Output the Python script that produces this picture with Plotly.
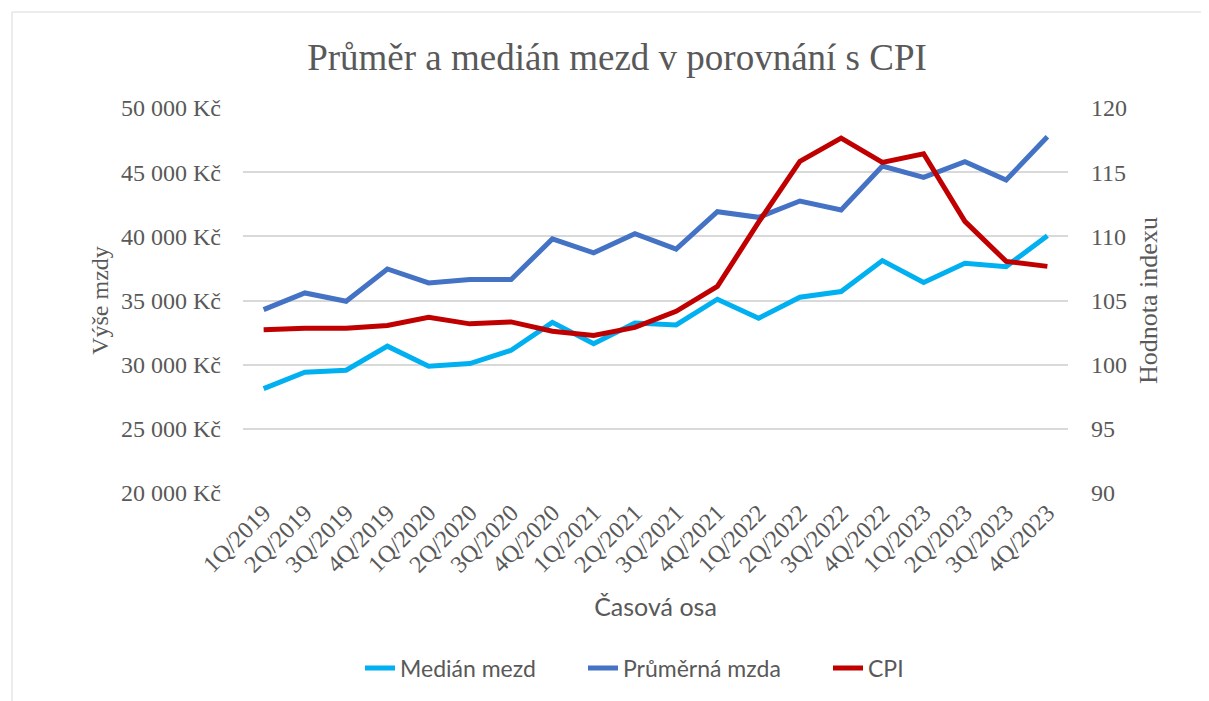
import plotly.graph_objects as go

categories = ["1Q/2019", "2Q/2019", "3Q/2019", "4Q/2019",
              "1Q/2020", "2Q/2020", "3Q/2020", "4Q/2020",
              "1Q/2021", "2Q/2021", "3Q/2021", "4Q/2021",
              "1Q/2022", "2Q/2022", "3Q/2022", "4Q/2022",
              "1Q/2023", "2Q/2023", "3Q/2023", "4Q/2023"]

median_wage = [28130, 29410, 29570, 31440, 29880, 30090, 31120, 33300, 31640, 33250,
               33100, 35100, 33620, 35260, 35700, 38110, 36400, 37900, 37640, 40050]

average_wage = [34290, 35590, 34940, 37460, 36370, 36630, 36630, 39800, 38710, 40210,
                39000, 41920, 41480, 42750, 42050, 45480, 44600, 45820, 44390, 47760]

cpi = [102.73, 102.84, 102.84, 103.05, 103.7, 103.18, 103.33, 102.6, 102.27, 102.9,
       104.16, 106.1, 111.1, 115.84, 117.66, 115.76, 116.44, 111.17, 108.05, 107.66]

left_ticks = [20000, 25000, 30000, 35000, 40000, 45000, 50000]
left_ticktext = ["20 000 Kč", "25 000 Kč", "30 000 Kč", "35 000 Kč",
                 "40 000 Kč", "45 000 Kč", "50 000 Kč"]
right_ticks = [90, 95, 100, 105, 110, 115, 120]

serif = "Liberation Serif, Times New Roman, serif"
sans = "Lato, Carlito, Liberation Sans, sans-serif"
gray = "#595959"

# plot area in figure coords (page is offset by 8px body margin)
L, T, W, H = 235, 100, 825, 385
FW, FH = 1209, 701

fig = go.Figure()
fig.add_trace(go.Scatter(x=categories, y=median_wage, name="Medián mezd",
                         mode="lines", line=dict(color="#00B0F0", width=5),
                         legend="legend", showlegend=True))
fig.add_trace(go.Scatter(x=categories, y=average_wage, name="Průměrná mzda",
                         mode="lines", line=dict(color="#4472C4", width=5),
                         legend="legend2", showlegend=True))
fig.add_trace(go.Scatter(x=categories, y=cpi, name="CPI", yaxis="y2",
                         mode="lines", line=dict(color="#C00000", width=5),
                         legend="legend2", showlegend=True))

legend_common = dict(orientation="h", xanchor="left",
                     y=(T + H - 660) / H, yanchor="middle",
                     entrywidth=200, entrywidthmode="pixels",
                     font=dict(family=sans, size=23, color=gray),
                     traceorder="normal", visible=True)

fig.update_layout(
    width=FW, height=FH, showlegend=True,
    paper_bgcolor="white", plot_bgcolor="white",
    margin=dict(l=L, r=FW - L - W, t=T, b=FH - T - H),
    title=dict(text="Průměr a medián mezd v porovnání s CPI",
               font=dict(family=serif, size=37, color=gray),
               x=(617 - 8) / FW, xanchor="center", y=1 - 49 / FH, yanchor="middle"),
    xaxis=dict(type="category", range=[-0.5, 19.5], tickangle=-45,
               showgrid=False, showline=False, ticks="",
               tickfont=dict(family=serif, size=24, color=gray),
               title=dict(text="Časová osa", font=dict(family=sans, size=25, color=gray),
                          standoff=22)),
    yaxis=dict(range=[20000, 50000], tickvals=left_ticks, ticktext=left_ticktext,
               showgrid=True, gridcolor="#D9D9D9", gridwidth=1.5,
               zeroline=False, showline=False, ticks="", ticklabelstandoff=21,
               tickfont=dict(family=serif, size=24, color=gray),
               title=dict(text="Výše mzdy", font=dict(family=serif, size=24, color=gray),
                          standoff=5)),
    yaxis2=dict(range=[90, 120], tickvals=right_ticks, overlaying="y", side="right",
                showgrid=False, zeroline=False, showline=False, ticks="",
                ticklabelstandoff=22,
                tickfont=dict(family=serif, size=24, color=gray),
                title=dict(text="Hodnota indexu", font=dict(family=serif, size=26, color=gray),
                           standoff=12)),
    legend=dict(x=(352 - L) / W, **legend_common),
    legend2=dict(x=(575 - L) / W, **legend_common),
    shapes=[dict(type="rect", xref="paper", yref="paper",
                 x0=(4 - L) / W, x1=(FW + 10 - L) / W,
                 y0=(T + H - 710) / H, y1=(T + H - 4) / H,
                 line=dict(color="#D9D9D9", width=1), layer="below")],
)

fig.write_html("out.html")
